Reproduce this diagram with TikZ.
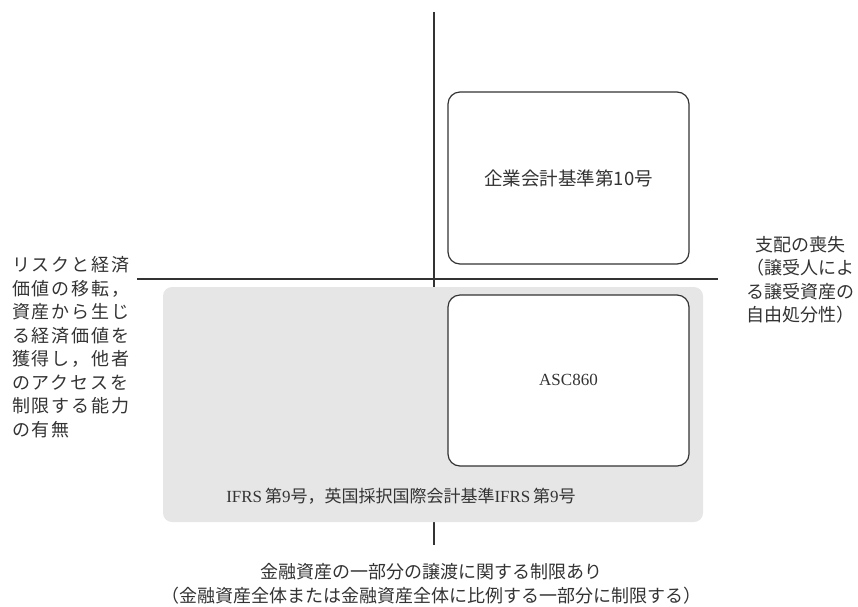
\documentclass[tikz,border=0pt]{standalone}
\usepackage{fontspec}
\setmainfont{Liberation Serif}
\newfontfamily\cjk{Noto Sans CJK JP}
\newfontfamily\cjkwide[LetterSpace=10]{Noto Sans CJK JP}
\definecolor{ink}{HTML}{333333}
\definecolor{shade}{HTML}{E6E6E6}
\begin{document}
\begin{tikzpicture}[x=1pt,y=-1pt,
  axisline/.style={draw=ink,line width=1.2pt},
  stdbox/.style={draw=ink,line width=1.2pt,rounded corners=12pt,fill=white,inner sep=0pt},
  grayzone/.style={fill=shade,rounded corners=9pt},
  boxtext/.style={text=ink,inner sep=0pt,font=\fontsize{17}{21}\selectfont},
  sidetext/.style={text=ink,inner sep=0pt,font=\cjk\fontsize{18}{23.5}\selectfont},
  widetext/.style={text=ink,inner sep=0pt,font=\cjkwide\fontsize{18}{23.5}\selectfont}]
\useasboundingbox (0,0) rectangle (858,606);
% axes
\coordinate (vtop) at (434,12);
\coordinate (vbot) at (434,545);
\coordinate (hleft) at (137,279);
\coordinate (hright) at (718,279);
\draw[axisline] (vtop) -- (vbot);
\draw[axisline] (hleft) -- (hright);
% gray zone
\path[grayzone] (163,287) rectangle (703,522);
% boxes
\draw[stdbox] (448,92) rectangle (689,264);
\draw[stdbox] (448,295) rectangle (689,466);
\node[boxtext,font=\cjk\fontsize{18.5}{21}\selectfont] (k10) at (568.5,178) {企業会計基準第10号};
\node[boxtext] (asc) at (568.5,380) {ASC860};
\node[boxtext] (ifrs) at (401,496) {IFRS\,{\cjk 第}9{\cjk 号，英国採択国際会計基準}IFRS\,{\cjk 第}9{\cjk 号}};
% side texts
\node[widetext,anchor=west,align=left] (left) at (12,347) {リスクと経済\\価値の移転，\\資産から生じ\\る経済価値を\\獲得し，他者\\のアクセスを\\制限する能力\\の有無};
\node[sidetext,align=center] (right) at (800,280) {支配の喪失\\（譲受人によ\\る譲受資産の\\自由処分性）};
\node[sidetext,align=center] (bottom) at (431,584) {金融資産の一部分の譲渡に関する制限あり\\（金融資産全体または金融資産全体に比例する一部分に制限する）};
\end{tikzpicture}
\end{document}
